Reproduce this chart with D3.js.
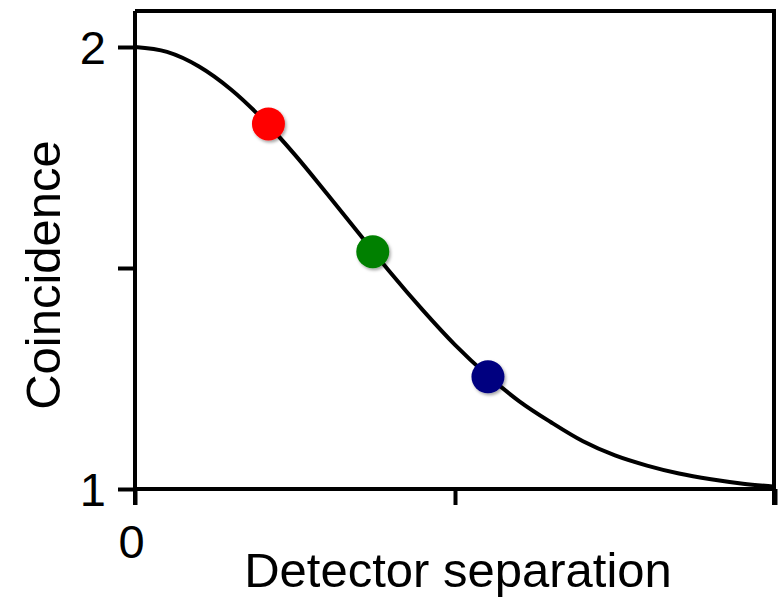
<!DOCTYPE html>
<html>
<head>
<meta charset="utf-8">
<script src="https://cdn.jsdelivr.net/npm/d3@7"></script>
<style>
html,body{margin:0;padding:0;background:#fff;}
svg{display:block;}
text{font-family:"Liberation Sans",Arial,sans-serif;fill:#000;}
</style>
</head>
<body>
<svg id="chart" width="781" height="597"></svg>
<script>
// Curve (x: detector separation, y: coincidence)
const curveX = [0,0.1,0.2,0.3,0.4,0.5,0.6,0.7,0.8,0.9,1.0,1.1,1.2,1.3,1.4,1.5,1.6,1.7,1.8,1.9,2.0];
const curveY = [2.000,1.989,1.956,1.904,1.836,1.756,1.668,1.578,1.488,1.404,1.326,1.258,1.199,1.151,1.108,1.076,1.053,1.035,1.022,1.012,1.005];
// Highlighted points
const pointX = [0.417, 0.743, 1.103];
const pointY = [1.826, 1.537, 1.254];
const pointColors = ["#ff0000", "#008000", "#000080"];
// Ticks
const xTicks = [0, 1, 2];
const xTickLabels = ["0", "", ""];
const yTicks = [1, 1.5, 2];
const yTickLabels = ["1", "", "2"];
const xTitle = "Detector separation";
const yTitle = "Coincidence";

(function () {
const svg = d3.select("#chart");
const pLeft = 135, pRight = 774, pTop = 11, pBottom = 489;
const x = d3.scaleLinear().domain([0, 2]).range([135, 775]);
const y = d3.scaleLinear().domain([1, 2]).range([489, 47]);

const defs = svg.append("defs");
const f = defs.append("filter").attr("id", "shadow").attr("x", "-50%").attr("y", "-50%").attr("width", "200%").attr("height", "200%");
f.append("feDropShadow").attr("dx", 1.5).attr("dy", 2).attr("stdDeviation", 1.5).attr("flood-color", "#000").attr("flood-opacity", 0.35);

// frame top & right
svg.append("path")
  .attr("d", `M${pLeft},${pTop}H${pRight}V${pBottom + 16}`)
  .attr("fill", "none").attr("stroke", "#000").attr("stroke-width", 4);

// x axis
const xAxis = d3.axisBottom(x).tickValues(xTicks).tickSize(16).tickSizeOuter(0)
  .tickFormat((d, i) => xTickLabels[i]);
const gx = svg.append("g").attr("transform", `translate(0,${pBottom})`).call(xAxis);
gx.select(".domain").attr("stroke-width", 4).attr("d", `M${pLeft},0H${pRight}`);
gx.selectAll(".tick line").attr("stroke-width", 4);
gx.selectAll(".tick text").attr("font-size", 47).attr("font-family", "Liberation Sans, Arial, sans-serif").attr("dy", "0.71em").attr("y", 36).attr("dx", -4);

// y axis
const yAxis = d3.axisLeft(y).tickValues(yTicks).tickSize(17).tickSizeOuter(0)
  .tickFormat((d, i) => yTickLabels[i]);
const gy = svg.append("g").attr("transform", `translate(${pLeft},0)`).call(yAxis);
gy.select(".domain").attr("stroke-width", 4).attr("d", `M0,${pTop}V${pBottom + 16}`);
gy.selectAll(".tick line").attr("stroke-width", 4);
gy.selectAll(".tick text").attr("font-size", 47).attr("font-family", "Liberation Sans, Arial, sans-serif").attr("x", -29).attr("dy", "0.36em");

// curve
const data = curveX.map((d, i) => [d, curveY[i]]);
svg.append("path").datum(data)
  .attr("fill", "none").attr("stroke", "#000").attr("stroke-width", 4)
  .attr("d", d3.line().x(d => x(d[0])).y(d => y(d[1])).curve(d3.curveMonotoneX));

// points
svg.selectAll("circle.pt").data(pointX).enter().append("circle")
  .attr("class", "pt")
  .attr("cx", d => x(d)).attr("cy", (d, i) => y(pointY[i]))
  .attr("r", 16.5).attr("fill", (d, i) => pointColors[i])
  .attr("filter", "url(#shadow)");

// titles
svg.append("text").attr("x", 458).attr("y", 587).attr("text-anchor", "middle")
  .attr("font-size", 49).text(xTitle);
svg.append("text").attr("transform", "translate(60,275) rotate(-90)").attr("text-anchor", "middle")
  .attr("font-size", 49).text(yTitle);
})();
</script>
</body>
</html>
